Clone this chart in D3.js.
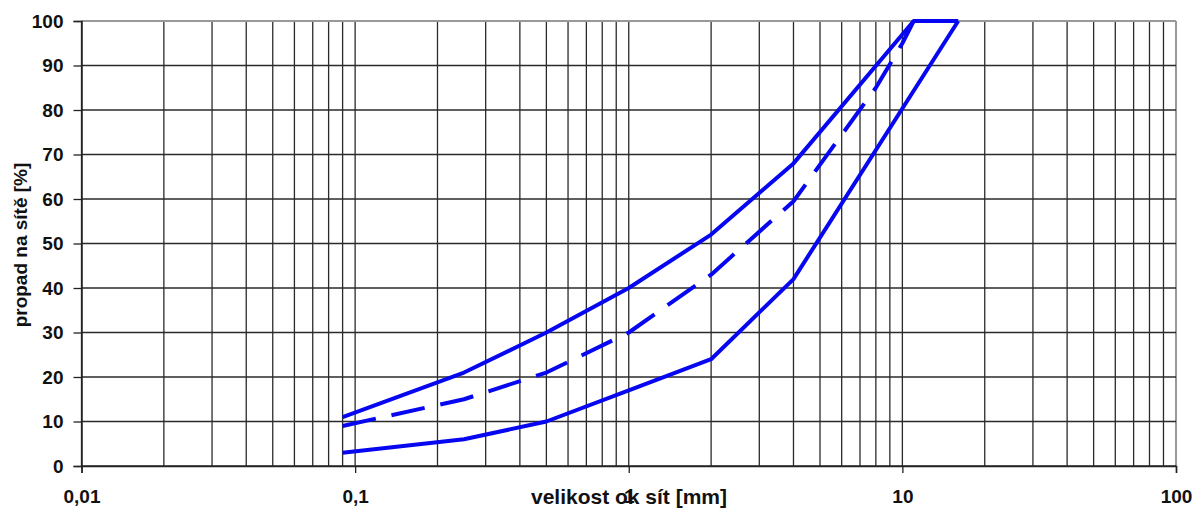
<!DOCTYPE html>
<html>
<head>
<meta charset="utf-8">
<script src="https://cdn.jsdelivr.net/npm/d3@7"></script>
<style>
    body { margin: 0; background: #fff; }
    text { font-family: "Liberation Sans", Arial, sans-serif; font-weight: bold; fill: #111; }
</style>
</head>
<body>
<div id="chart"></div>
<script>
"use strict";

// Sieve sizes [mm] and passing percentages for the three grading curves
let upperSizes = [0.09, 0.25, 0.5, 1, 2, 4, 11, 16];
let upperPass = [11, 21, 30, 40, 52, 68, 100, 100];

let lowerSizes = [0.09, 0.25, 0.5, 1, 2, 4, 16];
let lowerPass = [3, 6, 10, 17, 24, 42, 100];

let midSizes = [0.09, 0.25, 0.5, 1, 2, 4, 8, 10, 11];
let midPass = [9, 15, 21, 30, 43, 59.5, 85, 95, 100];

// Axis ticks
let xDecades = [0.01, 0.1, 1, 10, 100];
let xTickLabels = ["0,01", "0,1", "1", "10", "100"];
let yTicks = [0, 10, 20, 30, 40, 50, 60, 70, 80, 90, 100];

let xTitle = "velikost ok sít [mm]";
let yTitle = "propad na sítě [%]";

let width = 1203, height = 512;
let margin = { top: 21, left: 81.5, bottom: 46, right: 27 };
let innerWidth = width - margin.left - margin.right;
let innerHeight = height - margin.top - margin.bottom;

let svg = d3.select("#chart").append("svg")
    .attr("width", width)
    .attr("height", height);

let g = svg.append("g")
    .attr("transform", "translate(" + margin.left + "," + margin.top + ")");

let xScale = d3.scaleLog()
    .domain([0.01, 100])
    .range([0, innerWidth]);

let yScale = d3.scaleLinear()
    .domain([0, 100])
    .range([innerHeight, 0]);

// Minor grid values 1..9 in every decade
let gridX = [];
xDecades.slice(0, -1).forEach(function(d) {
    for (let i = 1; i <= 9; i++) gridX.push(d * i);
});
gridX.push(100);

// Grid
g.append("g").attr("class", "grid-x").selectAll("line")
    .data(gridX)
    .enter().append("line")
    .attr("x1", d => xScale(d))
    .attr("x2", d => xScale(d))
    .attr("y1", 0)
    .attr("y2", innerHeight)
    .style("stroke", (d, i) => i === gridX.length - 1 ? "#999" : "#2a2a2a")
    .style("stroke-width", (d, i) => i === gridX.length - 1 ? 2 : 1.3);

g.append("g").attr("class", "grid-y").selectAll("line")
    .data(yTicks)
    .enter().append("line")
    .attr("x1", 0)
    .attr("x2", innerWidth)
    .attr("y1", d => yScale(d))
    .attr("y2", d => yScale(d))
    .style("stroke", d => d === 100 ? "#999" : "#2a2a2a")
    .style("stroke-width", d => d === 100 ? 2 : 1.3);

// Axes
let yAxis = d3.axisLeft(yScale)
    .tickValues(yTicks)
    .tickSize(8)
    .tickPadding(10);

let yAxisG = g.append("g").call(yAxis);
yAxisG.select(".domain").style("stroke", "#222").style("stroke-width", 1.5);
yAxisG.selectAll(".tick line").style("stroke", "#222").style("stroke-width", 1.3);
yAxisG.selectAll(".tick text")
    .attr("font-family", null)
    .attr("font-size", null)
    .style("font-size", "19px");

let xAxis = d3.axisBottom(xScale)
    .tickValues(xDecades)
    .tickFormat((d, i) => xTickLabels[i])
    .tickSize(7)
    .tickPadding(17);

let xAxisG = g.append("g")
    .attr("transform", "translate(0," + innerHeight + ")")
    .call(xAxis);
xAxisG.select(".domain").style("stroke", "#222").style("stroke-width", 1.5);
xAxisG.selectAll(".tick line").style("stroke", "#222").style("stroke-width", 1.3);
xAxisG.selectAll(".tick text")
    .attr("font-family", null)
    .attr("font-size", null)
    .style("font-size", "19px");

// Axis titles
svg.append("text")
    .attr("x", 629)
    .attr("y", 504)
    .attr("text-anchor", "middle")
    .style("font-size", "21px")
    .text(xTitle);

svg.append("text")
    .attr("transform", "translate(27,245) rotate(-90)")
    .attr("text-anchor", "middle")
    .style("font-size", "19px")
    .text(yTitle);

// Curves
let line = d3.line()
    .x(d => xScale(d[0]))
    .y(d => yScale(d[1]));

let curves = [
    { pts: d3.zip(upperSizes, upperPass), dash: null },
    { pts: d3.zip(lowerSizes, lowerPass), dash: null },
    { pts: d3.zip(midSizes, midPass), dash: "34 16" }
];

g.append("g").attr("class", "lines").selectAll("path")
    .data(curves)
    .enter().append("path")
    .attr("d", d => line(d.pts))
    .style("fill", "none")
    .style("stroke", "#0606f0")
    .style("stroke-width", 4)
    .style("stroke-linejoin", "round")
    .style("stroke-dasharray", d => d.dash);
</script>
</body>
</html>
